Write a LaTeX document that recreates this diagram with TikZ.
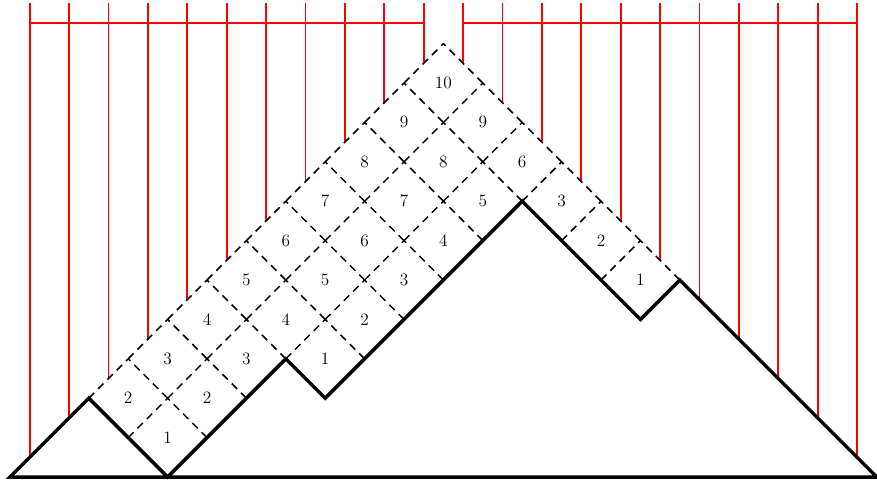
\documentclass[tikz,border=0pt]{standalone}
\begin{document}
\begin{tikzpicture}[x=1cm,y=1cm,
  tileedge/.style={draw=black, line width=1.1pt, dash pattern=on 5.5pt off 4pt},
  pathline/.style={draw=black, line width=2.5pt, line join=miter, line cap=butt},
  redline/.style={draw=red, line width=1.4pt},
  lab/.style={font=\fontsize{12.5}{14}\selectfont, inner sep=0pt}]
\useasboundingbox (-0.254,-0.1015) rectangle (22.005,12.107);
% red comb lines
\foreach \k in {0,...,21} {
  \pgfmathsetmacro\xx{\k+0.5}
  \pgfmathsetmacro\yy{min(\xx,22-\xx)}
  \draw[redline] (\xx,12.03) -- (\xx,\yy);
}
\draw[redline] (0.5,11.52) -- (10.5,11.52);
\draw[redline] (11.5,11.52) -- (21.5,11.52);
% tiles
\foreach \i/\h/\l in {4/1/1, 3/2/2, 5/2/2, 4/3/3, 6/3/3, 5/4/4, 7/4/4, 8/3/1,
  6/5/5, 8/5/5, 9/4/2, 7/6/6, 9/6/6, 10/5/3, 8/7/7, 10/7/7, 11/6/4, 9/8/8,
  11/8/8, 12/7/5, 10/9/9, 12/9/9, 13/8/6, 11/10/10, 14/7/3, 15/6/2, 16/5/1} {
  \draw[tileedge] (\i-1,\h) -- (\i,\h+1);
  \draw[tileedge] (\i+1,\h) -- (\i,\h+1);
  \node[lab] (t\i-\h) at (\i,\h) {\l};
}
% Dyck path
\draw[pathline] (0,0) -- (2,2) -- (4,0) -- (7,3) -- (8,2) -- (13,7) -- (16,4)
  -- (17,5) -- (22,0) -- cycle;
\end{tikzpicture}
\end{document}
